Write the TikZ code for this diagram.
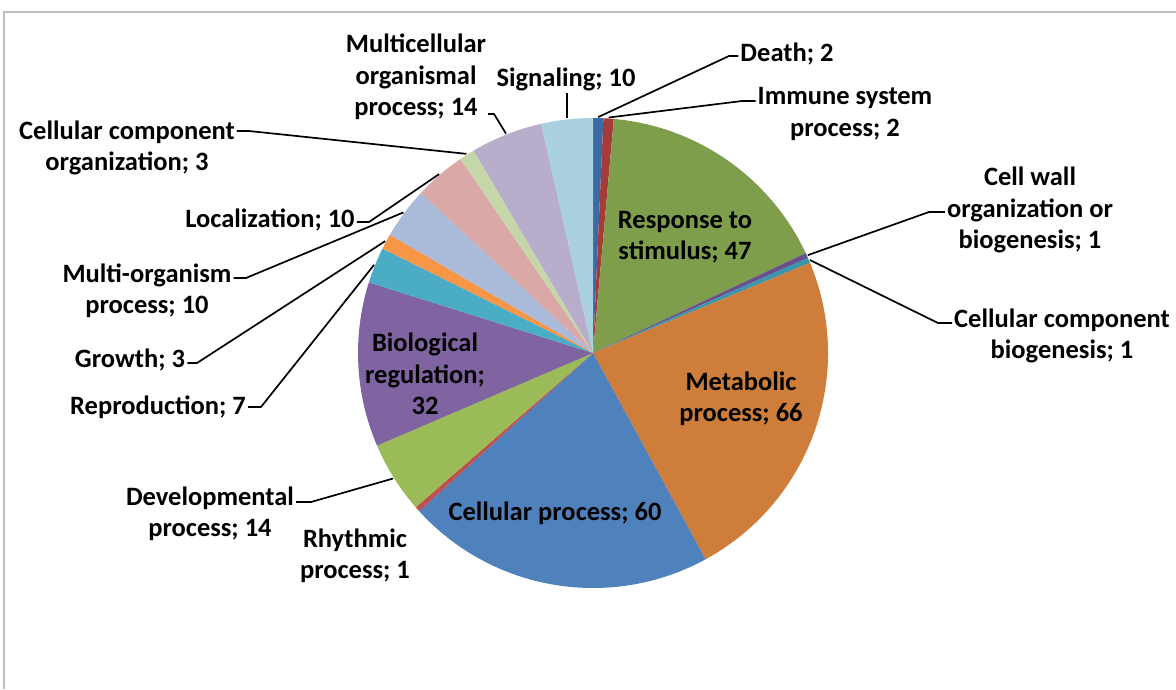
\documentclass[tikz,border=0pt]{standalone}
\usepackage{fontspec}
\setmainfont{Carlito}
\definecolor{cDeath}{HTML}{3B6AA4}
\definecolor{cImm}{HTML}{A63C3A}
\definecolor{cResp}{HTML}{7F9E4B}
\definecolor{cWall}{HTML}{6A4F8D}
\definecolor{cCCB}{HTML}{3896AD}
\definecolor{cMetab}{HTML}{CE7D3A}
\definecolor{cCell}{HTML}{4F81BD}
\definecolor{cRhyth}{HTML}{C0504D}
\definecolor{cDev}{HTML}{9BBB59}
\definecolor{cBio}{HTML}{8064A2}
\definecolor{cRepro}{HTML}{4BACC6}
\definecolor{cGrowth}{HTML}{F79646}
\definecolor{cMulti}{HTML}{AABBD9}
\definecolor{cLocal}{HTML}{D9A8A7}
\definecolor{cCCO}{HTML}{C5D6A9}
\definecolor{cMCell}{HTML}{B8AECB}
\definecolor{cSignal}{HTML}{A8D0DD}
\definecolor{frame}{HTML}{BFBFBF}
\begin{document}
\begin{tikzpicture}[x=1pt,y=-1pt,
  lbl/.style={font=\fontsize{26.5}{31.5}\selectfont\bfseries, align=center, inner sep=2pt, text=black},
  leader/.style={draw=black, line width=1.7pt, line join=round}]
\useasboundingbox (0,0) rectangle (1176,689);
\fill[white] (0,0) rectangle (1176,689);
\draw[draw=frame, line width=2pt] (4,689) -- (4,12) -- (1176,12);
% pie
\begin{scope}[shift={(593,353)}, y=1pt]
  \foreach \a/\b/\col in {0/2/cDeath, 2/4/cImm, 4/51/cResp, 51/52/cWall, 52/53/cCCB,
      53/119/cMetab, 119/179/cCell, 179/180/cRhyth, 180/194/cDev, 194/226/cBio,
      226/233/cRepro, 233/236/cGrowth, 236/246/cMulti, 246/256/cLocal, 256/259/cCCO,
      259/273/cMCell, 273/283/cSignal}{
    \pgfmathsetmacro{\sa}{90-\a/283*360}
    \pgfmathsetmacro{\ea}{90-\b/283*360}
    \fill[\col] (0,0) -- (\sa:235pt) arc[start angle=\sa, end angle=\ea, radius=235pt] -- cycle;
  }
  \foreach \n/\m in {Death/1, Imm/3, Wall/51.5, CCB/52.5, Dev/187, Repro/229.5, Growth/234.5,
      Multi/241, Local/251, CCO/257.5, MCell/266, Signal/278}{
    \pgfmathsetmacro{\ma}{90-\m/283*360}
    \coordinate (p\n) at (\ma:236pt);
  }
\end{scope}
% labels inside
\node[lbl] (lResp) at (685,237) {Response to\\stimulus; 47};
\node[lbl] (lMetab) at (741,399) {Metabolic\\process; 66};
\node[lbl] (lCell) at (555,513) {Cellular process; 60};
\node[lbl] (lBio) at (425,374) {Biological\\regulation;\\32};
% labels outside
\node[lbl] (lDeath) at (787,54) {Death; 2};
\node[lbl] (lImm) at (845,114) {Immune system\\process; 2};
\node[lbl] (lWall) at (1030,210) {Cell wall\\organization or\\biogenesis; 1};
\node[lbl] (lCCB) at (1062,336) {Cellular component\\biogenesis; 1};
\node[lbl] (lRhyth) at (355,556) {Rhythmic\\process; 1};
\node[lbl] (lDev) at (210,514) {Developmental\\process; 14};
\node[lbl] (lRepro) at (158,407) {Reproduction; 7};
\node[lbl] (lGrowth) at (130,360) {Growth; 3};
\node[lbl] (lMulti) at (147,291) {Multi-organism\\process; 10};
\node[lbl] (lLocal) at (270,220) {Localization; 10};
\node[lbl] (lCCO) at (127,148) {Cellular component\\organization; 3};
\node[lbl] (lMCell) at (416,77) {Multicellular\\organismal\\process; 14};
\node[lbl] (lSignal) at (566,79) {Signaling; 10};
% leader bends
\coordinate (tDeath) at (729,56);
\coordinate (tImm) at (742,101);
\coordinate (tWall) at (929,212);
\coordinate (tCCB) at (938,323);
\coordinate (tDev) at (311,502);
\coordinate (tRepro) at (261,407);
\coordinate (tGrowth) at (197,363);
\coordinate (tMulti) at (246,278);
\coordinate (tLocal) at (369,222);
\coordinate (tCCO) at (249,131);
\coordinate (tMCell) at (494,114);
% leaders
\draw[leader] (pDeath) -- (tDeath) -- (tDeath -| lDeath.west);
\draw[leader] (pImm) -- (tImm) -- (tImm -| lImm.west);
\draw[leader] (pWall) -- (tWall) -- (tWall -| lWall.west);
\draw[leader] (pCCB) -- (tCCB) -- (tCCB -| lCCB.west);
\draw[leader] (pDev) -- (tDev) -- (tDev -| lDev.east);
\draw[leader] (pRepro) -- (tRepro) -- (tRepro -| lRepro.east);
\draw[leader] (pGrowth) -- (tGrowth) -- (tGrowth -| lGrowth.east);
\draw[leader] (pMulti) -- (tMulti) -- (tMulti -| lMulti.east);
\draw[leader] (pLocal) -- (tLocal) -- (tLocal -| lLocal.east);
\draw[leader] (pCCO) -- (tCCO) -- (tCCO -| lCCO.east);
\draw[leader] (pMCell) -- (tMCell) -- (tMCell -| lMCell.east);
\draw[leader] (pSignal) -- (lSignal.south -| pSignal);
\end{tikzpicture}
\end{document}
